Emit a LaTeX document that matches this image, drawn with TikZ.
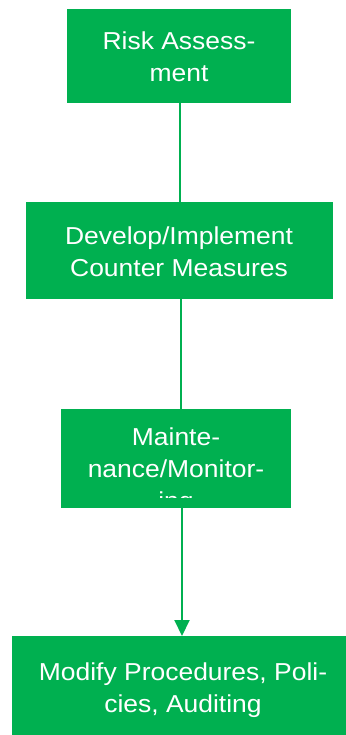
\documentclass[tikz,border=0pt]{standalone}
\usepackage{fontspec}
\setmainfont{Liberation Sans}[FakeStretch=1.08]
\usetikzlibrary{arrows.meta}
\definecolor{stepgreen}{HTML}{00B050}
\tikzset{
  stepbox/.style={fill=stepgreen, draw=none},
  steptext/.style={anchor=base, align=center, inner sep=0pt, text=white,
    font=\fontsize{24.5}{32}\selectfont},
  link/.style={draw=stepgreen, line width=2pt},
}
\begin{document}
\begin{tikzpicture}[x=1pt, y=-1pt]
  \useasboundingbox (0,0) rectangle (345,735);

  % boxes
  \path[stepbox] (67,9) rectangle (291,103);
  \path[stepbox] (26,202) rectangle (333,299);
  \path[stepbox] (61,409) rectangle (291,508);
  \path[stepbox] (12,636) rectangle (355,735);

  % box anchors for the connectors
  \coordinate (b1s) at (180,103);
  \coordinate (b2n) at (180,202);
  \coordinate (b2s) at (181,299);
  \coordinate (b3n) at (181,409);
  \coordinate (b3s) at (182,508);
  \coordinate (b4n) at (182,636);

  % labels (anchored on the baseline of their last line)
  \node[steptext] (risk) at (179,82) {Risk Assess-\\ment};
  \node[steptext] (dev) at (179,276) {Develop/Implement\\Counter Measures};
  \begin{scope}
    \clip (61,409) rectangle (291,497);
    \node[steptext] (maint) at (176,509) {Mainte-\\nance/Monitor-\\ing};
  \end{scope}
  \node[steptext] (modify) at (183,712) {Modify Procedures, Poli-\\cies, Auditing};

  % connectors
  \draw[link] (b1s) -- (b2n);
  \draw[link] (b2s) -- (b3n);
  \draw[link, -{Triangle[width=15pt, length=16pt]}] (b3s) -- (b4n);
\end{tikzpicture}
\end{document}
